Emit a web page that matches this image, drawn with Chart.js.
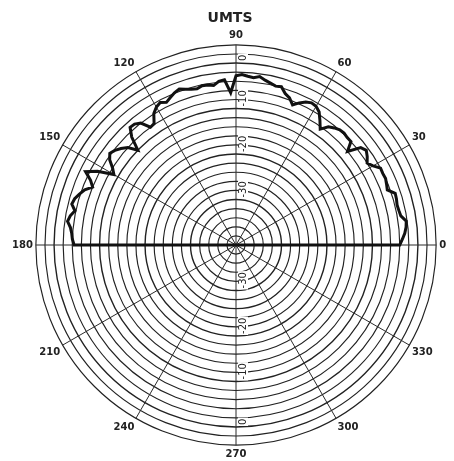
<!DOCTYPE html>
<html>
<head>
  <meta charset="utf-8">
  <title>UMTS</title>
  <script src="https://cdn.jsdelivr.net/npm/chart.js@4.4.1/dist/chart.umd.min.js"></script>
  <style>
    body { margin: 0; background: #fff; }
    #wrap { width: 454px; height: 461px; }
  </style>
</head>
<body>
<div id="wrap"><canvas id="canvas"></canvas></div>
<script>
// antenna pattern, dB relative to peak, sampled every 2 degrees from 0 to 180
var angleStep = 2;
var pattern = [
  -4.0, -3.4, -2.8, -2.4, -2.2, -3.2, -3.4, -3.5, -3.3, -3.2,
  -4.6, -4.3, -4.0, -4.1, -4.0, -5.2, -6.0, -5.2, -4.6, -5.2,
  -8.0, -6.0, -6.0, -5.8, -5.9, -6.4, -7.0, -8.5, -7.0, -5.5,
  -4.8, -4.6, -5.0, -5.8, -6.8, -5.6, -5.0, -3.8, -4.0, -3.6,
  -3.2, -2.6, -3.0, -2.8, -2.5, -2.8, -6.5, -3.6, -3.8, -4.6,
  -4.3, -4.2, -4.6, -4.4, -4.0, -3.5, -3.9, -4.5, -5.1, -4.5,
  -5.0, -5.9, -7.8, -8.0, -6.0, -5.3, -5.2, -7.0, -10.0, -8.0,
  -7.0, -6.2, -5.7, -6.5, -8.0, -9.0, -5.5, -3.2, -5.0, -6.0,
  -4.6, -3.8, -3.1, -2.8, -3.8, -3.0, -2.6, -3.4, -3.8, -4.0,
  -4.4
];
var floorDb = -40;
var topDb = 4;
var ringStep = 2;
var radialTicks = [0, -10, -20, -30];

// radar runs clockwise from the top, the plot runs counter-clockwise from the right
var angleLabels = [];
var values = [];
for (var i = 0; i < 360 / angleStep; i++) {
  var deg = (90 - i * angleStep + 360) % 360;
  angleLabels.push(deg);
  values.push(deg <= 180 ? pattern[deg / angleStep] : floorDb);
}

function isSpoke(index) {
  return angleLabels[index] % 30 === 0;
}

// rotated dB labels along the 90/270 axis
var axisLabels = {
  id: 'axisLabels',
  beforeDatasetsDraw: function(chart) {
    var r = chart.scales.r;
    var ctx = chart.ctx;
    ctx.save();
    ctx.font = '10px "DejaVu Sans"';
    ctx.textBaseline = 'middle';
    ctx.textAlign = 'left';
    radialTicks.forEach(function(v) {
      var d = r.getDistanceFromCenterForValue(v);
      var text = String(v);
      var w = ctx.measureText(text).width;
      [r.yCenter - d, r.yCenter + d].forEach(function(y) {
        ctx.save();
        ctx.translate(r.xCenter + 7, y - 2);
        ctx.rotate(-Math.PI / 2);
        ctx.fillStyle = '#fff';
        ctx.fillRect(-1, -5, w + 2, 10);
        ctx.fillStyle = '#222';
        ctx.fillText(text, 0, 0);
        ctx.restore();
      });
    });
    ctx.restore();
  }
};

var config = {
  type: 'radar',
  data: {
    labels: angleLabels,
    datasets: [{
      label: 'UMTS',
      data: values,
      borderColor: '#111',
      borderWidth: 3,
      backgroundColor: 'transparent',
      fill: false,
      pointRadius: 0,
      tension: 0
    }]
  },
  options: {
    responsive: true,
    maintainAspectRatio: false,
    animation: false,
    layout: { padding: { top: 5, left: 6, right: 0, bottom: -17 } },
    plugins: {
      legend: { display: false },
      tooltip: { enabled: false },
      title: {
        display: true,
        text: 'UMTS',
        color: '#222',
        font: { family: 'DejaVu Sans', size: 14, weight: 'bold' },
        padding: { top: 5, bottom: 3 }
      }
    },
    scales: {
      r: {
        min: floorDb,
        max: topDb,
        ticks: { stepSize: ringStep, display: false },
        grid: {
          circular: true,
          color: '#222',
          lineWidth: function(ctx) {
            return ctx.tick && ctx.tick.value % 10 === 0 ? 1.4 : 1.15;
          }
        },
        angleLines: {
          color: function(ctx) {
            return isSpoke(ctx.index) ? '#2a2a2a' : 'rgba(0,0,0,0)';
          },
          lineWidth: function(ctx) {
            return isSpoke(ctx.index) ? 1 : 0;
          }
        },
        pointLabels: {
          color: '#222',
          padding: 3,
          font: { family: 'DejaVu Sans', size: 10, weight: 'bold' },
          callback: function(label) {
            return label % 30 === 0 ? String(label) : '';
          }
        }
      }
    }
  },
  plugins: [axisLabels]
};

window.myRadar = new Chart(document.getElementById('canvas'), config);
</script>
</body>
</html>
